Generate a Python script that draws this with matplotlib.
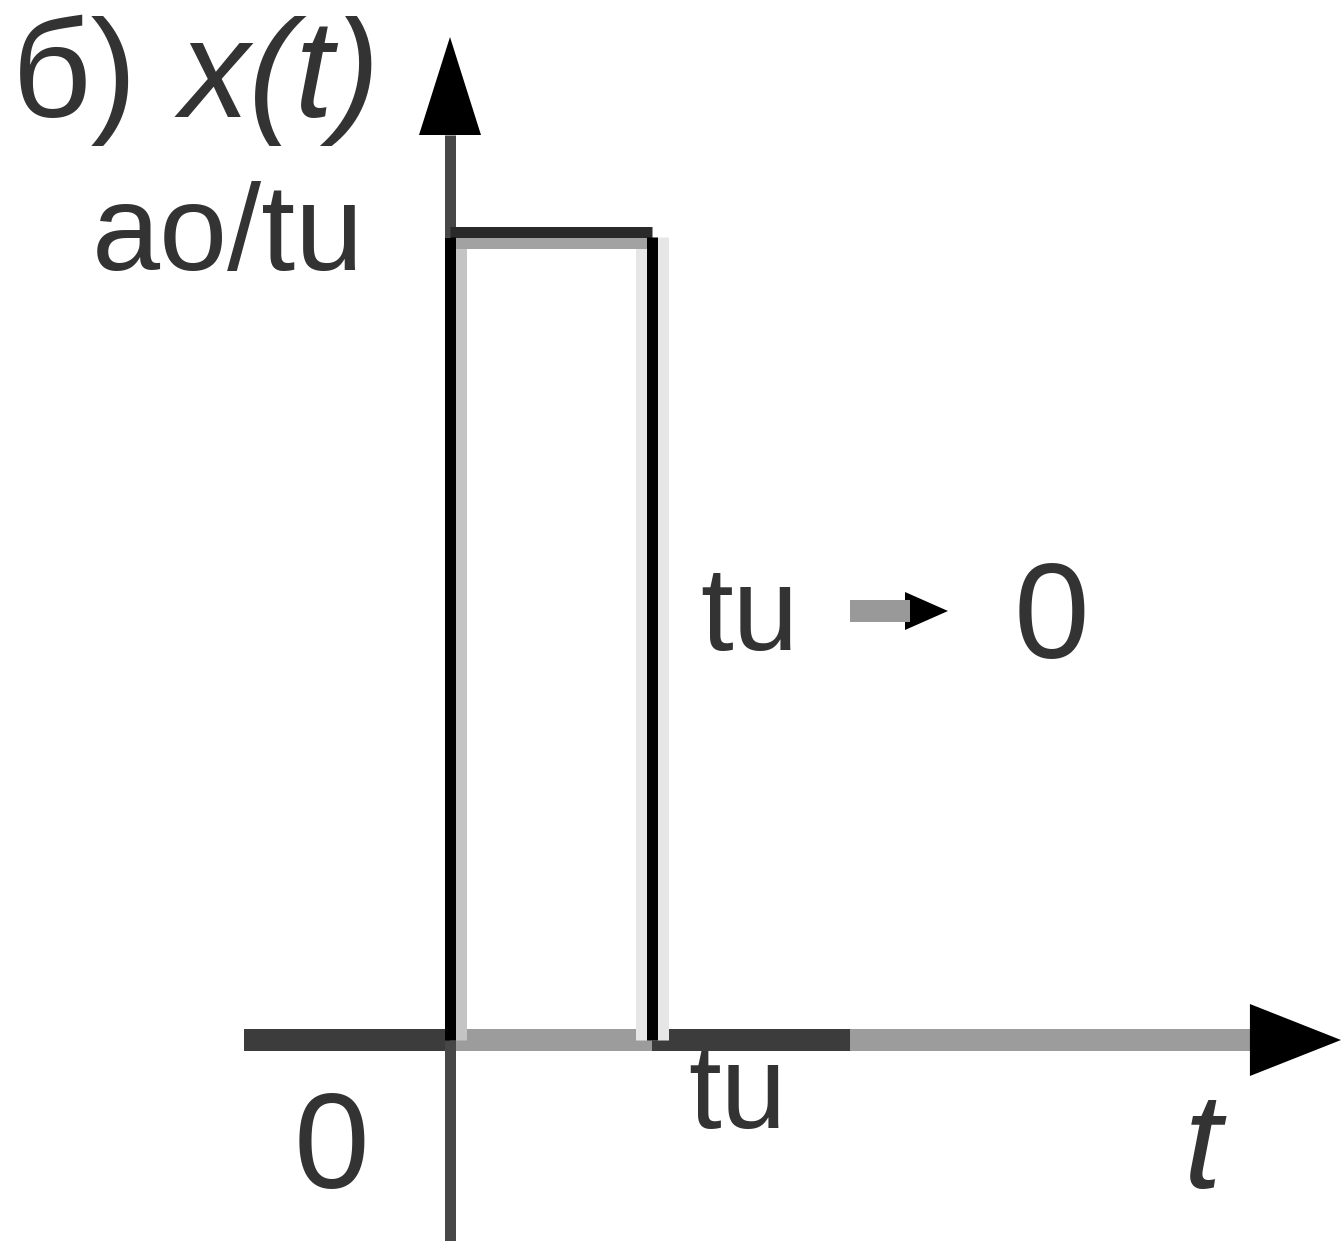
import numpy as np
import matplotlib.pyplot as plt

plt.rcParams['font.family'] = ['Liberation Sans', 'DejaVu Sans']

W, H = 1343, 1241

# прямоугольный импульс длительности tu и высоты a0/tu
tu = 1.0
amp = 1.0
pulse_t = [0, 0, tu, tu]
pulse_x = [0, amp, amp, 0]

# ось t: участки чередуются тёмный / серый
axis_t = [-1.02, 0, tu, 1.98, 3.96]
axis_shade = ['#3c3c3c', '#9c9c9c', '#3c3c3c', '#9c9c9c']

# масштаб: пикселей на единицу по t и по x
sx, sy = 202.0, 803.0
x0_px, y0_px = 450, 1040


def lw(px):
    return px * 72 / 100


def fig_xy(x, y):
    return x / W, 1 - y / H


fig = plt.figure(figsize=(W / 100, H / 100), dpi=100)
ax = fig.add_axes([0, 0, 1, 1])
ax.set_xlim(-x0_px / sx, (W - x0_px) / sx)
ax.set_ylim(-(H - y0_px) / sy, y0_px / sy)
ax.axis('off')

d = 5.5 / sy  # половина пикселя исходной сетки по вертикали
dx = 11 / sx

# ось t
for k in range(len(axis_shade)):
    ax.plot(axis_t[k:k + 2], [0, 0], color=axis_shade[k], lw=lw(22),
            solid_capstyle='butt', zorder=2)
ax.fill([axis_t[-1], axis_t[-1], (1341 - x0_px) / sx],
        [-36 / sy, 36 / sy, 0], color='black', lw=0, zorder=3)

# ось x(t)
v_tip = (y0_px - 37) / sy
v_base = (y0_px - 135) / sy
ax.plot([0, 0], [-(H - y0_px) / sy, 0], color='#474747', lw=lw(11),
        solid_capstyle='butt', zorder=2)
ax.plot([0, 0], [amp, v_base], color='#474747', lw=lw(11),
        solid_capstyle='butt', zorder=2)
ax.fill([-31 / sx, 31 / sx, 0], [v_base, v_base, v_tip], color='black',
        lw=0, zorder=3)

# импульс с серыми краями
ax.plot([dx, dx], [0, amp - 2 * d], color='#c4c4c4', lw=lw(11),
        solid_capstyle='butt', zorder=3)
ax.plot([tu, tu], [0, amp], color='#e6e6e6', lw=lw(33),
        solid_capstyle='butt', zorder=3)
ax.plot([0, tu], [amp - d, amp - d], color='#a2a2a2', lw=lw(11),
        solid_capstyle='butt', zorder=3)
ax.plot([0, tu], [amp + d, amp + d], color='#2a2a2a', lw=lw(11),
        solid_capstyle='butt', zorder=4)
ax.plot(pulse_t[:2], pulse_x[:2], color='black', lw=lw(11),
        solid_capstyle='butt', zorder=4)
ax.plot(pulse_t[2:], pulse_x[2:], color='black', lw=lw(11),
        solid_capstyle='butt', zorder=4)

tc = '#333333'
fig.text(*fig_xy(12, 117), 'б)', fontsize=100, color=tc, va='baseline')
fig.text(*fig_xy(180, 117), 'x(t)', fontsize=100, color=tc, va='baseline',
         style='italic')
fig.text(*fig_xy(92, 270), 'ao/tu', fontsize=88, color=tc, va='baseline')
fig.text(*fig_xy(700, 650), 'tu', fontsize=85, color=tc, va='baseline')
fig.text(*fig_xy(1014, 658), '0', fontsize=98, color=tc, va='baseline')
fig.text(*fig_xy(294, 1188), '0', fontsize=98, color=tc, va='baseline')
fig.text(*fig_xy(688, 1128), 'tu', fontsize=85, color=tc, va='baseline')
fig.text(*fig_xy(1184, 1188), 't', fontsize=98, color=tc, va='baseline',
         style='italic')

# стрелка tu -> 0
fig.add_artist(plt.Line2D([850 / W, 910 / W], [1 - 611 / H, 1 - 611 / H],
                          color='#999999', lw=lw(22), solid_capstyle='butt'))
fig.add_artist(plt.Polygon([fig_xy(905, 592), fig_xy(905, 630),
                            fig_xy(948, 611)], closed=True,
                           color='black', lw=0))

fig.savefig('out.png', dpi=100)
